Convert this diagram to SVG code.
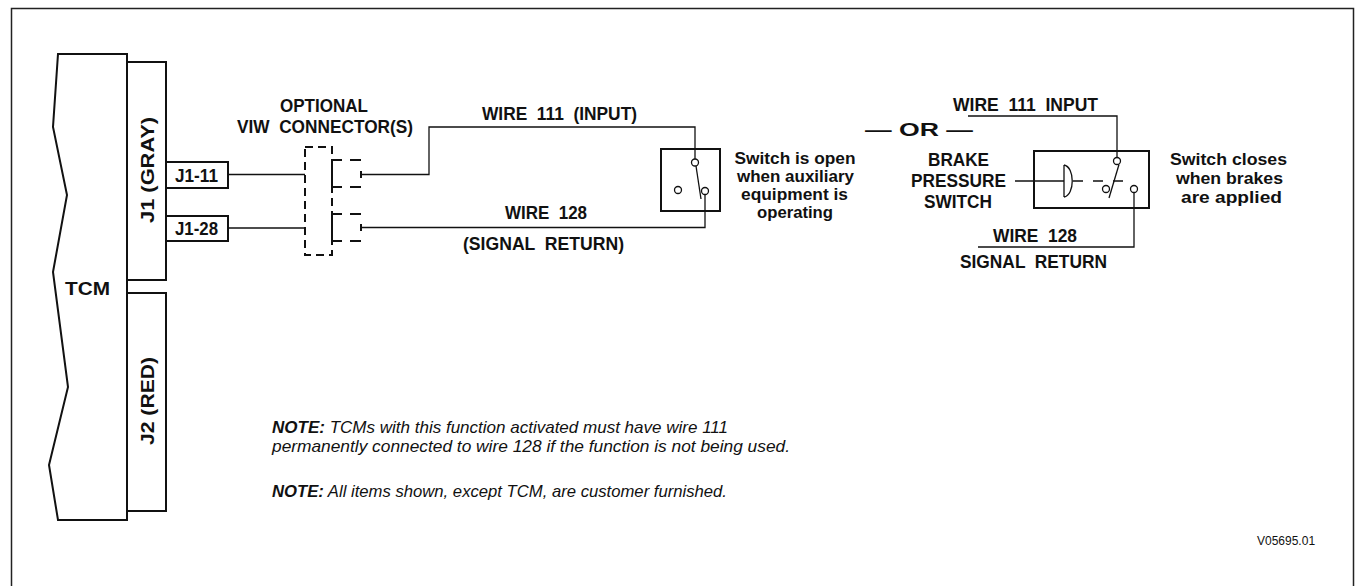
<svg xmlns="http://www.w3.org/2000/svg" width="1358" height="586" viewBox="0 0 1358 586">
<style>
.b{font-family:"Liberation Sans",Arial,sans-serif;font-weight:bold;font-size:18px;fill:#111}
.s{font-size:17px}
.c{text-anchor:middle}
.n{font-family:"Liberation Sans",Arial,sans-serif;font-style:italic;font-size:17px;fill:#111}
.thick{fill:none;stroke:#111;stroke-width:2}
.wire{fill:none;stroke:#111;stroke-width:1.3}
.dash{fill:none;stroke:#111;stroke-width:2;stroke-dasharray:8 5}
.dot{fill:#fff;stroke:#111;stroke-width:1.3}
</style>
<rect width="1358" height="586" fill="#fff"/>
<path d="M11.5,590 V8.5 H1353.5 V590" fill="none" stroke="#222" stroke-width="1.5"/>

<g id="tcm">
<path class="thick" d="M127,54 L58,54 L53,127 L67,195 L53,272 L68,387 L49,465 L58,520 L127,520 Z"/>
<text class="b" x="65" y="295" textLength="45" lengthAdjust="spacingAndGlyphs">TCM</text>
</g>
<g id="j1">
<rect class="thick" x="127" y="62" width="39" height="218"/>
<text class="b c" font-size="20" transform="translate(154,170) rotate(-90)" textLength="106" lengthAdjust="spacingAndGlyphs">J1 (GRAY)</text>
</g>
<g id="j2">
<rect class="thick" x="127" y="293" width="39" height="218"/>
<text class="b c" font-size="20" transform="translate(154,401) rotate(-90)" textLength="88" lengthAdjust="spacingAndGlyphs">J2 (RED)</text>
</g>
<g id="j1-11">
<rect class="thick" x="166" y="162" width="62" height="26"/>
<text class="b" x="175" y="181.5" textLength="43" lengthAdjust="spacingAndGlyphs">J1-11</text>
</g>
<g id="j1-28">
<rect class="thick" x="166" y="216" width="62" height="25"/>
<text class="b" x="175" y="235" textLength="43" lengthAdjust="spacingAndGlyphs">J1-28</text>
</g>

<g id="viw-connector">
<rect class="dash" x="305" y="147" width="27" height="108"/>
<path class="thick" d="M332,160 H342 M350,160 H361 M332,187 H342 M350,187 H361 M332,160 V172 M332,177 V187 M361,171 V178"/>
<path class="thick" d="M332,214 H342 M350,214 H361 M332,241 H342 M350,241 H361 M332,214 V224 M332,230 V241 M361,224 V231"/>
<text class="b c" x="324" y="112" textLength="88" lengthAdjust="spacingAndGlyphs">OPTIONAL</text>
<text class="b c" x="325" y="133" textLength="176" lengthAdjust="spacingAndGlyphs" xml:space="preserve">VIW  CONNECTOR(S)</text>
</g>

<g id="aux-switch">
<rect class="thick" x="661" y="149" width="59" height="62"/>
<line class="wire" x1="696" y1="166" x2="701" y2="199"/>
<circle class="dot" cx="695" cy="162.5" r="3.5"/>
<circle class="dot" cx="705" cy="191" r="3.5"/>
<circle class="dot" cx="678" cy="190" r="3.5"/>
<text class="b s c" x="795" y="163.5" textLength="121" lengthAdjust="spacingAndGlyphs">Switch is open</text>
<text class="b s c" x="795.5" y="181.5" textLength="117" lengthAdjust="spacingAndGlyphs">when auxiliary</text>
<text class="b s c" x="794.5" y="199.5" textLength="107" lengthAdjust="spacingAndGlyphs">equipment is</text>
<text class="b s c" x="795" y="217.5" textLength="76" lengthAdjust="spacingAndGlyphs">operating</text>
</g>

<g id="brake-switch">
<rect class="thick" x="1034" y="151" width="115" height="57"/>
<path class="wire" d="M1064,165 V197 M1064,165 C1075,167 1075,195 1064,197"/>
<path class="wire" d="M1073,181 H1083 M1093,181 H1103 M1113,181 H1123"/>
<line class="wire" x1="1119" y1="164.5" x2="1109" y2="198"/>
<circle class="dot" cx="1117" cy="161" r="3.5"/>
<circle class="dot" cx="1106" cy="189" r="3.5"/>
<circle class="dot" cx="1134" cy="189" r="3.5"/>
<text class="b c" x="958.5" y="166" textLength="61" lengthAdjust="spacingAndGlyphs">BRAKE</text>
<text class="b c" x="958.5" y="187" textLength="95" lengthAdjust="spacingAndGlyphs">PRESSURE</text>
<text class="b c" x="958" y="208" textLength="68" lengthAdjust="spacingAndGlyphs">SWITCH</text>
<text class="b s c" x="1228.5" y="165" textLength="117" lengthAdjust="spacingAndGlyphs">Switch closes</text>
<text class="b s c" x="1229.5" y="184" textLength="107" lengthAdjust="spacingAndGlyphs">when brakes</text>
<text class="b s c" x="1231.5" y="203" textLength="101" lengthAdjust="spacingAndGlyphs">are applied</text>
</g>

<g id="connectors">
<path class="wire" d="M228,174.5 H305"/>
<path class="wire" d="M228,228 H305"/>
<path class="wire" d="M361,174.5 H429 V127 H695 V159"/>
<path class="wire" d="M361,227.5 H705 V194.5"/>
<path class="wire" d="M968,116 H1117 V157.5"/>
<path class="wire" d="M1015,181 H1064"/>
<path class="wire" d="M1134,192.5 V247 H978"/>
</g>

<g id="labels">
<text class="b" x="482" y="120" textLength="155" lengthAdjust="spacingAndGlyphs" xml:space="preserve">WIRE  111  (INPUT)</text>
<text class="b" x="505" y="219" textLength="82" lengthAdjust="spacingAndGlyphs" xml:space="preserve">WIRE  128</text>
<text class="b" x="463" y="250" textLength="161" lengthAdjust="spacingAndGlyphs" xml:space="preserve">(SIGNAL  RETURN)</text>
<text class="b" x="865" y="136" font-size="25" textLength="108" lengthAdjust="spacingAndGlyphs">— OR —</text>
<text class="b" x="953" y="111" textLength="145" lengthAdjust="spacingAndGlyphs" xml:space="preserve">WIRE  111  INPUT</text>
<text class="b" x="993" y="242" textLength="84" lengthAdjust="spacingAndGlyphs" xml:space="preserve">WIRE  128</text>
<text class="b" x="960" y="268" textLength="147" lengthAdjust="spacingAndGlyphs" xml:space="preserve">SIGNAL  RETURN</text>
</g>

<g id="notes">
<text class="n" x="272" y="433" textLength="456" lengthAdjust="spacingAndGlyphs"><tspan font-weight="bold">NOTE:</tspan> TCMs with this function activated must have wire 111</text>
<text class="n" x="272" y="452" textLength="518" lengthAdjust="spacingAndGlyphs">permanently connected to wire 128 if the function is not being used.</text>
<text class="n" x="272" y="497" textLength="455" lengthAdjust="spacingAndGlyphs"><tspan font-weight="bold">NOTE:</tspan> All items shown, except TCM, are customer furnished.</text>
<text x="1257" y="545" font-family="Liberation Sans, Arial, sans-serif" font-size="12" fill="#111">V05695.01</text>
</g>
</svg>
